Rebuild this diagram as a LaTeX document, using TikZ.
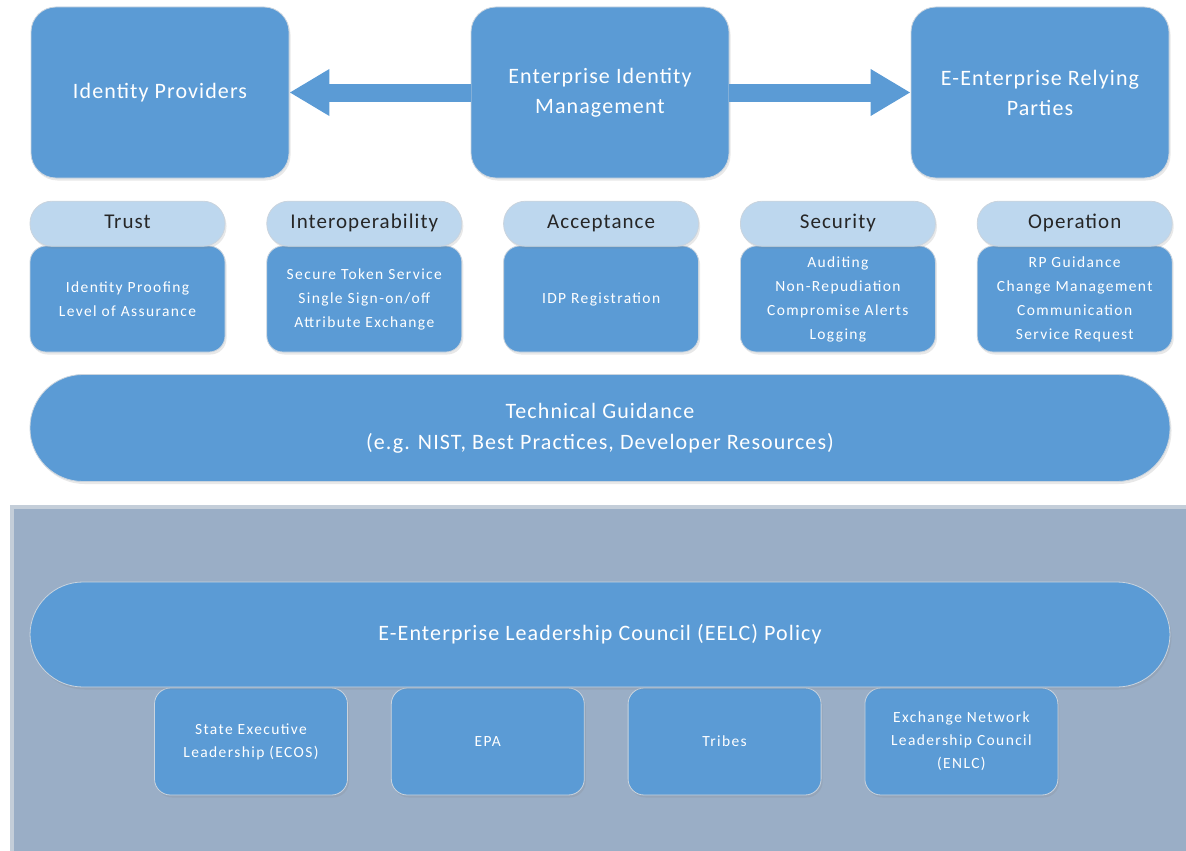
\documentclass[tikz,border=0pt]{standalone}
\usepackage{fontspec}
\setmainfont{Carlito}
\usepackage{tikz}
\usetikzlibrary{arrows.meta, positioning, shadows}
\definecolor{boxblue}{HTML}{5B9BD5}
\definecolor{headblue}{HTML}{BDD7EE}
\definecolor{panelgray}{HTML}{9AAEC6}
\definecolor{paneledge}{HTML}{C4CED9}
\definecolor{edgegray}{HTML}{CAD4DE}
\newcommand{\bigtext}{\fontsize{22}{30}\selectfont\addfontfeatures{LetterSpace=5}}
\newcommand{\smalltext}{\fontsize{15.5}{24}\selectfont\addfontfeatures{LetterSpace=9}}
\tikzstyle{softshadow} = [drop shadow={shadow xshift=1.5pt, shadow yshift=-2.5pt, opacity=0.18}]
\tikzstyle{bigbox} = [rectangle, rounded corners=25pt, minimum width=258pt, minimum height=171pt, align=center, text=white, fill=boxblue, draw=edgegray, line width=0.8pt, softshadow, font=\bigtext]
\tikzstyle{headpill} = [rectangle, rounded corners=22pt, minimum width=195pt, minimum height=45pt, text height=14pt, text depth=4pt, text=black!85, fill=headblue, draw=edgegray, line width=0.8pt, softshadow, font=\fontsize{21}{24}\selectfont\addfontfeatures{LetterSpace=5}]
\tikzstyle{itembox} = [rectangle, rounded corners=16pt, minimum width=195pt, minimum height=106pt, align=center, text=white, fill=boxblue, draw=edgegray, line width=0.8pt, softshadow, font=\smalltext]
\tikzstyle{widebar} = [rectangle, rounded corners=53pt, minimum width=1140pt, minimum height=107pt, align=center, text=white, fill=boxblue, draw=edgegray, line width=0.8pt, softshadow, font=\fontsize{22}{31}\selectfont\addfontfeatures{LetterSpace=5}]
\tikzstyle{orgbox} = [rectangle, rounded corners=16pt, minimum width=193pt, minimum height=107pt, align=center, text=white, fill=boxblue, draw=edgegray, line width=0.8pt, softshadow, font=\fontsize{15.5}{23}\selectfont\addfontfeatures{LetterSpace=9}]
\tikzstyle{bigarrow} = [draw=boxblue, line width=18pt, -{Triangle[length=40pt, width=44pt]}]

\begin{document}
\begin{tikzpicture}[x=1pt, y=-1pt, node distance=41pt]
\useasboundingbox (0,0) rectangle (1186,851);
\node (idp) [bigbox] at (160,92.5) {Identity Providers};
\node (eim) [bigbox] at (600,92.5) {Enterprise Identity\\Management};
\node (rp) [bigbox] at (1040,92.5) {E-Enterprise Relying\\Parties};
\draw [bigarrow] (eim.west) -- (idp.east);
\draw [bigarrow] (eim.east) -- (rp.west);

% pillars
\node (trustbox) [itembox] at (127.5,299) {Identity Proofing\\Level of Assurance};
\node (interopbox) [itembox, right=of trustbox] {Secure Token Service\\Single Sign-on/off\\Attribute Exchange};
\node (acceptbox) [itembox, right=of interopbox] {IDP Registration};
\node (securbox) [itembox, right=of acceptbox] {Auditing\\Non-Repudiation\\Compromise Alerts\\Logging};
\node (operbox) [itembox, right=of securbox] {RP Guidance\\Change Management\\Communication\\Service Request};
\node (trust) [headpill, above=-1pt of trustbox] {Trust};
\node (interop) [headpill, above=-1pt of interopbox] {Interoperability};
\node (accept) [headpill, above=-1pt of acceptbox] {Acceptance};
\node (secur) [headpill, above=-1pt of securbox] {Security};
\node (oper) [headpill, above=-1pt of operbox] {Operation};

\node (techguide) [widebar] at (600,428) {Technical Guidance\\(e.g. NIST, Best Practices, Developer Resources)};

% governance panel
\draw [fill=panelgray, draw=paneledge, line width=4pt] (12,507) rectangle (1192,857);
\node (ecos) [orgbox] at (251,741.5) {State Executive\\Leadership (ECOS)};
\node (epa) [orgbox, right=43pt of ecos] {EPA};
\node (tribes) [orgbox, right=43pt of epa] {Tribes};
\node (enlc) [orgbox, right=43pt of tribes] {Exchange Network\\Leadership Council\\(ENLC)};
\node (eelc) [widebar, minimum height=105pt] at (600,634.5) {E-Enterprise Leadership Council (EELC) Policy};
\end{tikzpicture}
\end{document}
